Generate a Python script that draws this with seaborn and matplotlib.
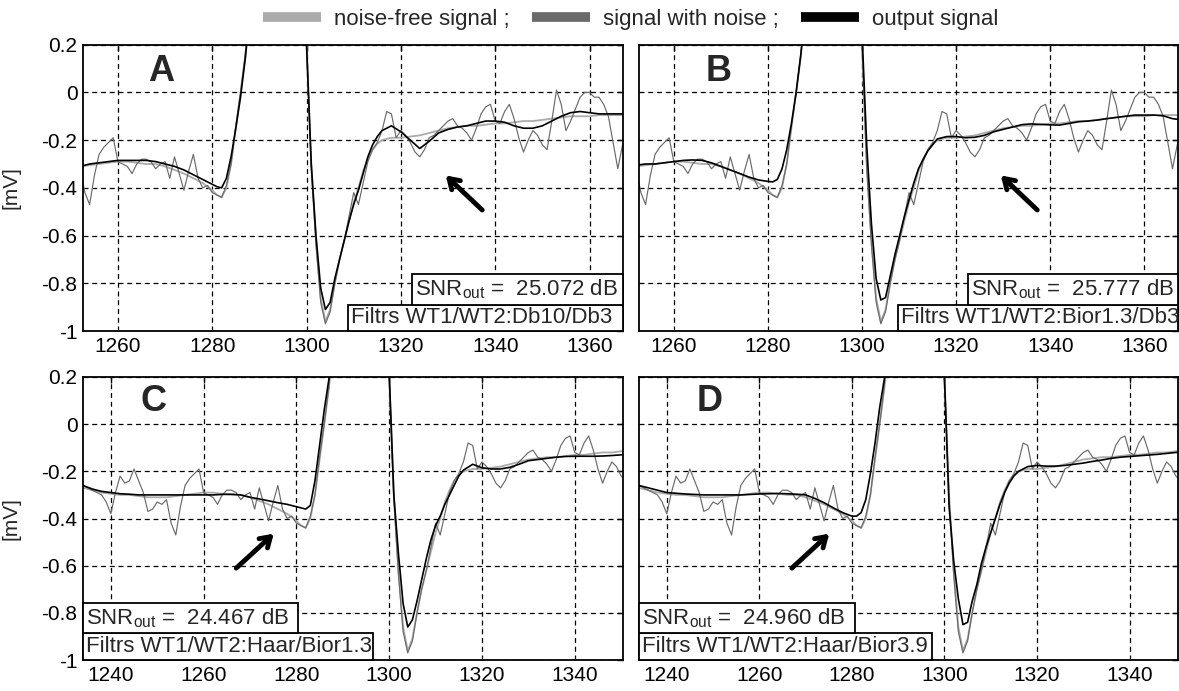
import matplotlib
matplotlib.use("Agg")
import matplotlib.pyplot as plt
import seaborn as sns
from matplotlib.lines import Line2D
from matplotlib.patches import Rectangle

sns.set_style("white")
plt.rcParams['font.family'] = ['Liberation Sans', 'DejaVu Sans']
plt.rcParams['mathtext.fontset'] = 'custom'
plt.rcParams['mathtext.rm'] = 'Liberation Sans'
plt.rcParams['mathtext.it'] = 'Liberation Sans'

# sample axis: noisy signal every sample, smooth curves on knots
x_fine = list(range(1234, 1369))
x_knots = list(range(1234, 1281, 2)) + list(range(1281, 1317)) + list(range(1318, 1369, 2))

noisy = [-0.26, -0.27, -0.28, -0.29, -0.30, -0.33, -0.38, -0.29, -0.22, -0.25,
         -0.24, -0.19, -0.24, -0.29, -0.37, -0.36, -0.33, -0.34, -0.32, -0.42,
         -0.47, -0.35, -0.26, -0.23, -0.21, -0.19, -0.29, -0.30, -0.31, -0.34,
         -0.30, -0.28, -0.28, -0.29, -0.32, -0.30, -0.29, -0.36, -0.27, -0.34,
         -0.41, -0.33, -0.26, -0.36, -0.40, -0.39, -0.42, -0.43, -0.44, -0.39,
         -0.30, -0.14, 0.00, 0.16, 0.36, 0.60, 0.90, 1.20, 1.45, 1.60,
         1.70, 1.70, 1.60, 1.40, 1.10, 0.70, 0.20, -0.32, -0.64, -0.88,
         -0.97, -0.92, -0.80, -0.70, -0.62, -0.52, -0.42, -0.47, -0.38, -0.29,
         -0.24, -0.21, -0.16, -0.08, -0.09, -0.19, -0.16, -0.18, -0.21, -0.25,
         -0.27, -0.24, -0.19, -0.18, -0.16, -0.14, -0.12, -0.11, -0.14, -0.15,
         -0.17, -0.20, -0.15, -0.09, -0.06, -0.05, -0.12, -0.13, -0.08, -0.05,
         -0.11, -0.19, -0.25, -0.20, -0.16, -0.18, -0.22, -0.24, -0.12, 0.01,
         -0.05, -0.16, -0.12, -0.07, -0.02, 0.00, 0.00, -0.02, -0.02, -0.05,
         -0.10, -0.21, -0.32, -0.22, -0.15]

clean = [-0.27, -0.28, -0.29, -0.295, -0.30, -0.30, -0.305, -0.31, -0.31, -0.31, -0.305, -0.30,
         -0.295, -0.29, -0.29, -0.295, -0.30, -0.30, -0.31, -0.325, -0.34, -0.36, -0.38, -0.41,
         -0.43, -0.44, -0.40, -0.30, -0.15, 0.00, 0.15, 0.35, 0.60, 0.90, 1.20, 1.45,
         1.60, 1.70, 1.70, 1.60, 1.40, 1.10, 0.70, 0.20, -0.30, -0.62, -0.86, -0.96,
         -0.91, -0.80, -0.70, -0.62, -0.54, -0.46, -0.40, -0.33, -0.28, -0.24, -0.215, -0.20,
         -0.19, -0.19, -0.185, -0.18, -0.17, -0.16, -0.15, -0.145, -0.14, -0.14, -0.135, -0.13,
         -0.13, -0.125, -0.12, -0.12, -0.115, -0.11, -0.105, -0.10, -0.10, -0.10, -0.095, -0.095,
         -0.095, -0.095]

out_A = [-0.30, -0.30, -0.30, -0.30, -0.30, -0.30, -0.305, -0.31, -0.31, -0.31, -0.30, -0.295,
         -0.29, -0.285, -0.285, -0.285, -0.285, -0.29, -0.30, -0.31, -0.325, -0.345, -0.365, -0.385,
         -0.395, -0.40, -0.36, -0.27, -0.15, -0.02, 0.14, 0.34, 0.60, 0.90, 1.20, 1.45,
         1.60, 1.70, 1.70, 1.60, 1.40, 1.10, 0.70, 0.20, -0.30, -0.60, -0.82, -0.91,
         -0.88, -0.78, -0.70, -0.62, -0.54, -0.47, -0.41, -0.34, -0.27, -0.22, -0.185, -0.16,
         -0.14, -0.165, -0.20, -0.235, -0.205, -0.17, -0.155, -0.145, -0.14, -0.13, -0.12, -0.12,
         -0.125, -0.14, -0.15, -0.15, -0.14, -0.12, -0.10, -0.085, -0.08, -0.085, -0.09, -0.09,
         -0.09, -0.09]

out_B = [-0.30, -0.30, -0.30, -0.30, -0.30, -0.30, -0.30, -0.305, -0.305, -0.305, -0.30, -0.30,
         -0.295, -0.29, -0.285, -0.283, -0.285, -0.295, -0.31, -0.325, -0.34, -0.355, -0.367, -0.373,
         -0.375, -0.365, -0.32, -0.24, -0.13, 0.00, 0.16, 0.36, 0.60, 0.90, 1.20, 1.45,
         1.60, 1.70, 1.70, 1.60, 1.40, 1.10, 0.70, 0.25, -0.22, -0.55, -0.78, -0.87,
         -0.86, -0.77, -0.68, -0.60, -0.52, -0.45, -0.38, -0.32, -0.28, -0.245, -0.22, -0.195,
         -0.185, -0.185, -0.19, -0.188, -0.18, -0.165, -0.155, -0.145, -0.135, -0.132, -0.134, -0.136,
         -0.137, -0.13, -0.123, -0.12, -0.116, -0.11, -0.105, -0.10, -0.095, -0.095, -0.095, -0.098,
         -0.11, -0.115]

out_C = [-0.26, -0.275, -0.285, -0.29, -0.295, -0.297, -0.30, -0.30, -0.30, -0.30, -0.30, -0.30,
         -0.30, -0.30, -0.30, -0.298, -0.297, -0.30, -0.31, -0.317, -0.325, -0.333, -0.34, -0.35,
         -0.355, -0.36, -0.345, -0.24, -0.09, 0.06, 0.19, 0.36, 0.60, 0.90, 1.20, 1.45,
         1.60, 1.70, 1.70, 1.60, 1.40, 1.10, 0.70, 0.22, -0.30, -0.55, -0.76, -0.86,
         -0.83, -0.75, -0.66, -0.57, -0.49, -0.43, -0.39, -0.34, -0.30, -0.26, -0.22, -0.195,
         -0.17, -0.185, -0.19, -0.19, -0.183, -0.17, -0.155, -0.15, -0.145, -0.14, -0.137, -0.136,
         -0.136, -0.136, -0.135, -0.133, -0.13, -0.128, -0.125, -0.125, -0.125, -0.125, -0.125, -0.125,
         -0.125, -0.125]

out_D = [-0.26, -0.27, -0.28, -0.29, -0.293, -0.296, -0.298, -0.30, -0.30, -0.30, -0.30, -0.30,
         -0.298, -0.296, -0.295, -0.294, -0.295, -0.297, -0.30, -0.315, -0.333, -0.355, -0.375, -0.39,
         -0.39, -0.375, -0.32, -0.21, -0.08, 0.07, 0.19, 0.36, 0.60, 0.90, 1.20, 1.45,
         1.60, 1.70, 1.70, 1.60, 1.40, 1.10, 0.70, 0.20, -0.35, -0.58, -0.74, -0.85,
         -0.84, -0.75, -0.68, -0.59, -0.52, -0.46, -0.40, -0.34, -0.29, -0.25, -0.22, -0.20,
         -0.18, -0.175, -0.178, -0.178, -0.175, -0.17, -0.165, -0.158, -0.152, -0.145, -0.14, -0.137,
         -0.134, -0.131, -0.128, -0.124, -0.12, -0.118, -0.116, -0.115, -0.114, -0.113, -0.112, -0.111,
         -0.11, -0.11]

panel_names = ['A', 'B', 'C', 'D']
outputs = [out_A, out_B, out_C, out_D]
snr_values = ['25.072', '25.777', '24.467', '24.960']
filter_names = ['Db10/Db3', 'Bior1.3/Db3', 'Haar/Bior1.3', 'Haar/Bior3.9']
x_ticks_top = [1260, 1280, 1300, 1320, 1340, 1360]
x_ticks_bottom = [1240, 1260, 1280, 1300, 1320, 1340]
y_ticks = [-1, -0.8, -0.6, -0.4, -0.2, 0, 0.2]
y_tick_labels = ['-1', '-0.8', '-0.6', '-0.4', '-0.2', '0', '0.2']
legend_labels = ['noise-free signal ;', 'signal with noise ;', 'output signal']

c_clean = '#ababab'
c_noisy = '#6a6a6a'
c_out = '#000000'

W, H = 1179, 691
fig = plt.figure(figsize=(W / 100, H / 100), dpi=100)

# axes boxes in pixels: left, top, width, height
boxes = [(83, 44.7, 540, 286.3), (639, 44.7, 538.7, 286.3),
         (83, 377, 540, 283), (639, 377, 538.7, 283)]
xlims = [(1252.6, 1367.1), (1252.6, 1367.1), (1234, 1350.4), (1234, 1350.4)]
# info boxes (axes fraction): upper box, lower box
info = [((0.609, 0.091, 0.391, 0.108), (0.491, 0.0, 0.509, 0.091)),
        ((0.611, 0.091, 0.389, 0.108), (0.481, 0.0, 0.519, 0.091)),
        ((0.0, 0.095, 0.398, 0.106), (0.0, 0.0, 0.537, 0.095)),
        ((0.0, 0.095, 0.401, 0.106), (0.0, 0.0, 0.544, 0.095))]
arrows = [((0.743, 0.416), (0.668, 0.55)), ((0.743, 0.416), (0.668, 0.55)),
          ((0.28, 0.318), (0.357, 0.453)), ((0.28, 0.318), (0.357, 0.453))]
letter_pos = [(0.144, 0.905), (0.147, 0.905), (0.13, 0.915), (0.132, 0.915)]

for i, name in enumerate(panel_names):
    l, t, w, h = boxes[i]
    ax = fig.add_axes([l / W, 1 - (t + h) / H, w / W, h / H])

    sns.lineplot(x=x_knots, y=clean, ax=ax, color=c_clean, linewidth=1.3, sort=False)
    sns.lineplot(x=x_fine, y=noisy, ax=ax, color=c_noisy, linewidth=0.85, sort=False)
    sns.lineplot(x=x_knots, y=outputs[i], ax=ax, color=c_out, linewidth=1.2, sort=False)

    ax.set_xlim(*xlims[i])
    ax.set_ylim(-1, 0.2)
    ax.set_xticks(x_ticks_top if i < 2 else x_ticks_bottom)
    ax.set_yticks(y_ticks)
    if i % 2 == 0:
        ax.set_yticklabels(y_tick_labels)
        ax.set_ylabel('[mV]', fontsize=15)
        ax.yaxis.set_label_coords(-0.115, 0.5)
    else:
        ax.set_yticklabels([])
        ax.set_ylabel('')
    ax.set_xlabel('')
    ax.grid(True, color='black', linestyle=(0, (4, 3)), linewidth=0.9)
    ax.tick_params(direction='in', length=4, width=1, top=True, right=True,
                   labelsize=15, pad=4, colors='black')
    for sp in ax.spines.values():
        sp.set_visible(True)
        sp.set_color('black')
        sp.set_linewidth(1.3)

    ax.text(*letter_pos[i], name, transform=ax.transAxes, fontsize=26,
            fontweight='bold', ha='center', va='center')

    tail, head = arrows[i]
    ax.annotate('', xy=head, xytext=tail, xycoords='axes fraction',
                arrowprops=dict(arrowstyle='->,head_length=0.7,head_width=0.45',
                                lw=3.5, color='black'))

    up, low = info[i]
    for (bx, by, bw, bh), txt in [(low, f'Filtrs WT1/WT2:{filter_names[i]}'),
                                  (up, f'SNR$_{{out}}$ =  {snr_values[i]} dB')]:
        ax.add_patch(Rectangle((bx, by), bw, bh, transform=ax.transAxes,
                               facecolor='white', edgecolor='black', lw=1.3,
                               zorder=5, clip_on=False))
        ax.text(bx + 0.006, by + bh / 2, txt, transform=ax.transAxes,
                fontsize=16, ha='left', va='center', zorder=6)

handles = [Line2D([], [], color=c, lw=7, solid_capstyle='butt')
           for c in (c_clean, c_noisy, c_out)]
fig.legend(handles, legend_labels, loc='center', bbox_to_anchor=(0.535, 0.972),
           ncol=3, frameon=False, fontsize=16, handlelength=2.6,
           handletextpad=0.6, columnspacing=1.0)

fig.savefig('out.png', dpi=100)
